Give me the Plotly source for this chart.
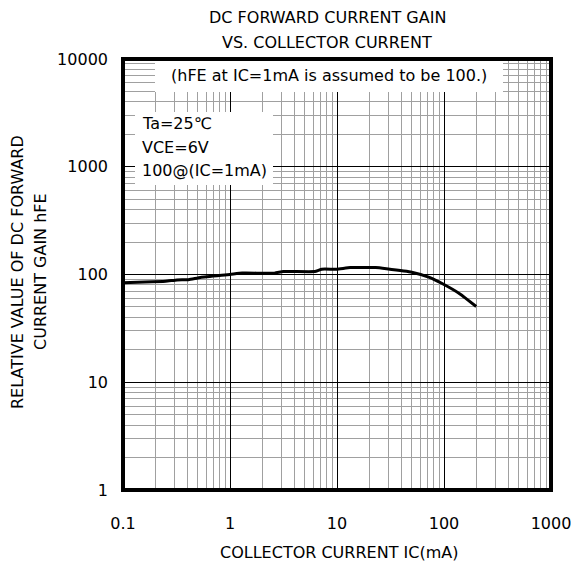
import plotly.graph_objects as go

# Data
ic_ma = [0.1, 0.16, 0.25, 0.32, 0.41, 0.53, 1.0, 1.3, 2.6, 3.15, 6.2, 7.2, 9.9,
         13.3, 23, 29, 50, 73, 97, 141, 200]
hfe_rel = [84, 85, 86.5, 89, 89.5, 94, 100, 103, 103, 106.5, 106.5, 112, 112,
           116, 116, 113, 105, 94, 82, 66, 50.5]

x_ticks = [0.1, 1, 10, 100, 1000]
x_tick_text = ["0.1", "1", "10", "100", "1000"]
y_ticks = [1, 10, 100, 1000, 10000]
y_tick_text = ["1", "10", "100", "1000", "10000"]

title_lines = ["DC FORWARD CURRENT GAIN", "VS. COLLECTOR CURRENT"]
ytitle_lines = ["RELATIVE VALUE OF DC FORWARD", "CURRENT GAIN hFE"]
xtitle = "COLLECTOR CURRENT IC(mA)"
note_text = "(hFE at IC=1mA is assumed to be 100.)"
cond_lines = ["Ta=25℃", "VCE=6V", "100@(IC=1mA)"]

FONT = "DejaVu Sans, Noto Sans CJK JP, sans-serif"
FS = 16

fig = go.Figure()
fig.add_trace(go.Scatter(x=ic_ma, y=hfe_rel, mode="lines",
                         line=dict(color="black", width=3, shape="spline", smoothing=0.4),
                         showlegend=False, hoverinfo="skip"))

W, H = 573, 565
L, R, T, B = 123, 22, 59, 75
pw, ph = W - L - R, H - T - B

def px(x):
    return (x - L) / pw

def py(y):
    return (H - B - y) / ph

axis_common = dict(
    type="log", showgrid=True, gridcolor="black", gridwidth=1,
    minor=dict(showgrid=True, gridcolor="#a0a0a0", gridwidth=1, dtick="D1"),
    zeroline=False, showline=False, ticks="", automargin=False,
    tickfont=dict(family=FONT, size=FS, color="black"),
)

fig.update_layout(
    width=W, height=H, autosize=False,
    margin=dict(l=L, r=R, t=T, b=B, pad=0, autoexpand=False),
    plot_bgcolor="white", paper_bgcolor="white",
    font=dict(family=FONT, size=FS, color="black"),
    xaxis=dict(range=[-1, 3], tickvals=x_ticks, ticktext=x_tick_text,
               ticklabelstandoff=22, **axis_common),
    yaxis=dict(range=[0, 4], tickvals=y_ticks, ticktext=y_tick_text,
               ticklabelstandoff=14, **axis_common),
)

# white boxes behind text
fig.add_shape(type="rect", xref="paper", yref="paper",
              x0=px(155), x1=px(503), y0=py(92), y1=py(60),
              fillcolor="white", line=dict(width=0), layer="above")
fig.add_shape(type="rect", xref="paper", yref="paper",
              x0=px(135), x1=px(273), y0=py(185), y1=py(112),
              fillcolor="white", line=dict(width=0), layer="above")
# thick frame
fig.add_shape(type="rect", xref="paper", yref="paper", x0=0, x1=1, y0=0, y1=1,
              line=dict(color="black", width=4), layer="above")

ann = []
for txt, yy in zip(title_lines, [18, 42]):
    ann.append(dict(text=txt, x=px(327), y=py(yy), xanchor="center", yanchor="middle"))
for txt, xx in zip(ytitle_lines, [17, 40]):
    ann.append(dict(text=txt, x=px(xx), y=py(272), xanchor="center", yanchor="middle",
                    textangle=-90))
ann.append(dict(text=xtitle, x=px(339), y=py(552), xanchor="center", yanchor="middle"))
ann.append(dict(text=note_text, x=px(329), y=py(76), xanchor="center", yanchor="middle"))
for txt, yy in zip(cond_lines, [123, 147, 170]):
    ann.append(dict(text=txt, x=px(140), y=py(yy), xanchor="left", yanchor="middle"))

for a in ann:
    fig.add_annotation(xref="paper", yref="paper", showarrow=False,
                       font=dict(family=FONT, size=FS, color="black"), **a)

fig.write_html("out.html", config={"displayModeBar": False},
               post_script="document.body.style.margin='0px';")
